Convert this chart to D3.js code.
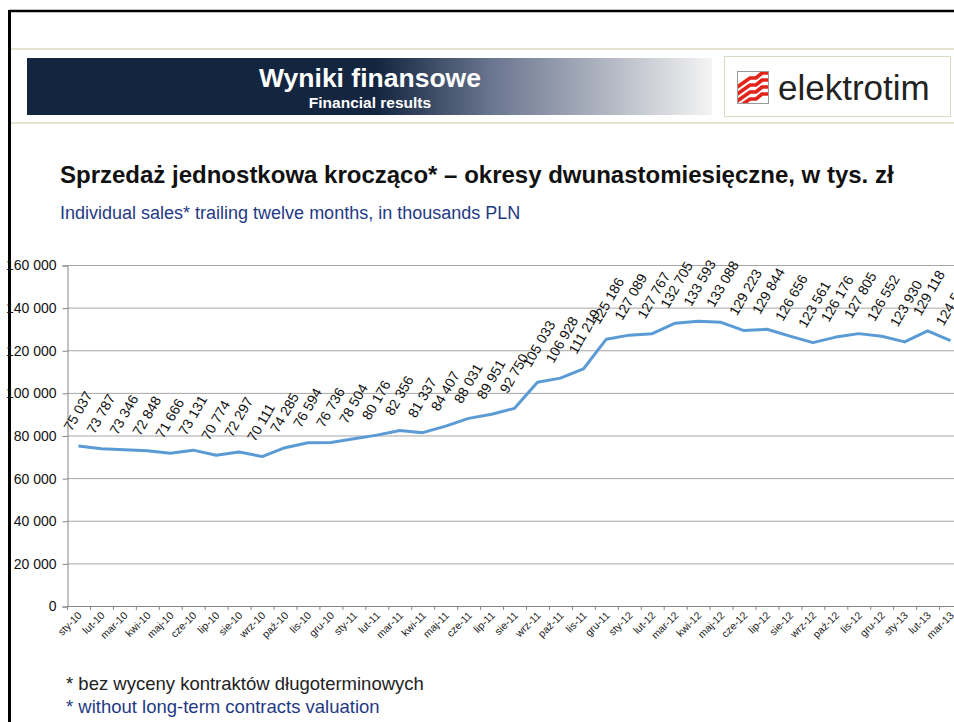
<!DOCTYPE html>
<html>
<head>
<meta charset="utf-8">
<script src="https://cdn.jsdelivr.net/npm/d3@7"></script>
<style>
  html, body { margin: 0; padding: 0; background: #fff; overflow: hidden; }
  svg { display: block; font-family: "Liberation Sans", Arial, sans-serif; }
</style>
</head>
<body>
<svg id="slide" width="954" height="722"></svg>
<script>

// months (x categories)
var months = ["sty-10","lut-10","mar-10","kwi-10","maj-10","cze-10","lip-10","sie-10","wrz-10","paź-10","lis-10","gru-10",
              "sty-11","lut-11","mar-11","kwi-11","maj-11","cze-11","lip-11","sie-11","wrz-11","paź-11","lis-11","gru-11",
              "sty-12","lut-12","mar-12","kwi-12","maj-12","cze-12","lip-12","sie-12","wrz-12","paź-12","lis-12","gru-12",
              "sty-13","lut-13","mar-13"];

// trailing 12m sales, thousands PLN
var sales = [75037,73787,73346,72848,71666,73131,70774,72297,70111,74285,76594,76736,
             78504,80176,82356,81337,84407,88031,89951,92750,105033,106928,111219,125186,
             127089,127767,132705,133593,133088,129223,129844,126656,123561,126176,127805,126552,
             123930,129118,124513];

var yTicks = [0,20000,40000,60000,80000,100000,120000,140000,160000];

var svg = d3.select("#slide");
var fmt = function(v){ return d3.format(",")(v).replace(/,/g, " "); };

// ---- slide frame ----
svg.append("line").attr("x1",9).attr("x2",954).attr("y1",11).attr("y2",11)
  .attr("stroke","#000").attr("stroke-width",2.5);
svg.append("line").attr("x1",9.5).attr("x2",9.5).attr("y1",10).attr("y2",722)
  .attr("stroke","#000").attr("stroke-width",3);
svg.append("line").attr("x1",11).attr("x2",954).attr("y1",49).attr("y2",49)
  .attr("stroke","#DDD9C3").attr("stroke-width",1.5);
svg.append("line").attr("x1",11).attr("x2",954).attr("y1",123).attr("y2",123)
  .attr("stroke","#DDD9C3").attr("stroke-width",1.5);

// ---- banner ----
var defs = svg.append("defs");
var grad = defs.append("linearGradient").attr("id","bannerGrad")
  .attr("x1","0%").attr("x2","100%").attr("y1","0%").attr("y2","0%");
grad.append("stop").attr("offset","0%").attr("stop-color","#13253F");
grad.append("stop").attr("offset","51%").attr("stop-color","#13253F");
grad.append("stop").attr("offset","68%").attr("stop-color","#6B7690");
grad.append("stop").attr("offset","85%").attr("stop-color","#B3B8C3");
grad.append("stop").attr("offset","100%").attr("stop-color","#F4F4F4");

svg.append("rect").attr("x",27).attr("y",58).attr("width",685).attr("height",57)
  .attr("fill","url(#bannerGrad)");
svg.append("text").attr("x",370).attr("y",87).attr("text-anchor","middle")
  .attr("fill","#fff").attr("font-weight","bold").attr("font-size",26.5)
  .text("Wyniki finansowe");
svg.append("text").attr("x",370).attr("y",108).attr("text-anchor","middle")
  .attr("fill","#fff").attr("font-weight","bold").attr("font-size",15.5)
  .text("Financial results");

// ---- logo ----
svg.append("rect").attr("x",724.5).attr("y",56.5).attr("width",226).attr("height",60)
  .attr("fill","#fff").attr("stroke","#DDD9C3").attr("stroke-width",1);
svg.append("rect").attr("x",737.5).attr("y",71.5).attr("width",31).attr("height",32)
  .attr("fill","#fff").attr("stroke","#999").attr("stroke-width",1);
var stripes = svg.append("g").attr("clip-path","url(#logoClip)");
defs.append("clipPath").attr("id","logoClip").append("rect")
  .attr("x",738).attr("y",72).attr("width",30).attr("height",31);
[0,1,2,3].forEach(function(i){
  var dy = i*7;
  stripes.append("path")
    .attr("d","M736," + (88+dy) + " L750," + (78+dy) + " L756," + (78+dy) + " L762," + (73+dy) + " L770," + (73+dy))
    .attr("fill","none").attr("stroke","#E2231A").attr("stroke-width",3.6);
});
svg.append("text").attr("x",778).attr("y",100)
  .attr("fill","#222").attr("font-size",35)
  .text("elektrotim");

// ---- titles ----
svg.append("text").attr("x",60).attr("y",183)
  .attr("fill","#111").attr("font-weight","bold").attr("font-size",24)
  .text("Sprzedaż jednostkowa krocząco* – okresy dwunastomiesięczne, w tys. zł");
svg.append("text").attr("x",60).attr("y",219)
  .attr("fill","#1F3A85").attr("font-size",18)
  .text("Individual sales* trailing twelve months, in thousands PLN");

// ---- chart ----
var margin = {left: 67, top: 265};
var plotW = 39 * 22.95, plotH = 341;

var x = d3.scaleBand().domain(months).range([0, plotW]);
var y = d3.scaleLinear().domain([0, 160000]).range([plotH, 0]);

var g = svg.append("g").attr("transform","translate(" + margin.left + "," + margin.top + ")");

// gridlines
g.selectAll(".grid").data(yTicks.slice(1)).enter().append("line")
  .attr("x1",0).attr("x2",954 - margin.left)
  .attr("y1",function(d){ return y(d) + 0.5; }).attr("y2",function(d){ return y(d) + 0.5; })
  .attr("stroke","#A6A6A6").attr("stroke-width",1);

// y axis
var yAx = g.append("g").attr("transform","translate(0.5,0.5)")
  .call(d3.axisLeft(y).tickValues(yTicks).tickSize(5).tickPadding(6).tickFormat(fmt));
yAx.select(".domain").attr("stroke","#868686");
yAx.selectAll(".tick line").attr("stroke","#868686");
yAx.selectAll("text").attr("font-size",14).attr("fill","#111").attr("font-family","'Liberation Sans', Arial, sans-serif");

// x axis
var xAx = g.append("g").attr("transform","translate(0," + (plotH + 0.5) + ")")
  .call(d3.axisBottom(x).tickSize(0).tickFormat(""));
xAx.select(".domain").attr("stroke","#868686").attr("d","M0,0H" + (954 - margin.left));
g.selectAll(".xtick").data(d3.range(months.length + 1)).enter().append("line")
  .attr("x1",function(i){ return i * x.step() + 0.5; }).attr("x2",function(i){ return i * x.step() + 0.5; })
  .attr("y1",plotH).attr("y2",plotH + 4)
  .attr("stroke","#868686");
g.selectAll(".xlab").data(months).enter().append("text")
  .attr("transform",function(d){
    return "translate(" + (x(d) + x.bandwidth()/2 + 4) + "," + (plotH + 10) + ") rotate(-45)";
  })
  .attr("text-anchor","end")
  .attr("font-size",10.5).attr("fill","#222")
  .text(function(d){ return d; });

// line
var line = d3.line()
  .x(function(d, i){ return x(months[i]) + x.bandwidth()/2; })
  .y(function(d){ return y(d); });
g.append("path").datum(sales)
  .attr("d", line)
  .attr("fill","none").attr("stroke","#5B9BD5").attr("stroke-width",3)
  .attr("stroke-linejoin","round");

// data labels
g.selectAll(".dlab").data(sales).enter().append("text")
  .attr("transform",function(d, i){
    var px = x(months[i]) + x.bandwidth()/2, py = y(d);
    return "translate(" + (px - 7) + "," + (py - 14) + ") rotate(-60)";
  })
  .attr("font-size",14).attr("fill","#111")
  .text(function(d){ return fmt(d); });

// ---- footnotes ----
svg.append("text").attr("x",66).attr("y",690)
  .attr("fill","#222").attr("font-size",18.5)
  .text("* bez wyceny kontraktów długoterminowych");
svg.append("text").attr("x",66).attr("y",713)
  .attr("fill","#1F3A85").attr("font-size",18.5)
  .text("* without long-term contracts valuation");

</script>
</body>
</html>
